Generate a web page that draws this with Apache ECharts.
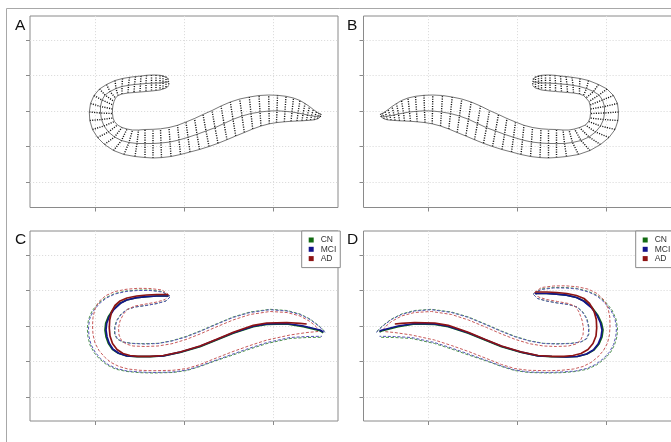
<!DOCTYPE html>
<html>
<head>
<meta charset="utf-8">
<script src="https://cdn.jsdelivr.net/npm/echarts@6/dist/echarts.min.js"></script>
<style>
html, body { margin: 0; padding: 0; background: #fff; }
#main { width: 671px; height: 442px; }
</style>
</head>
<body>
<div id="main"></div>
<script>
// tick positions (no labels in the figure)
var xTicks = [-88.5, 0, 89];
var yTicks = [-71.5, -35.5, 0, 35.5, 71];

// panel A: mesh stations, outer edge / medial line / inner edge
var aOuter = [[-16,32.5],[-18,34.5],[-21,35.2],[-24,35.7],[-28,36],[-32.5,36],[-37.5,35.7],[-43,35],[-48.5,34.5],[-54.5,33.7],[-61.5,32.5],[-69,30.5],[-77.5,26.5],[-84.5,22],[-90,15.5],[-93.5,7.5],[-94.7,-1],[-94.2,-9.5],[-91.5,-18.5],[-86.5,-26.5],[-79.5,-33.5],[-70.5,-39.5],[-60,-43.5],[-49,-45.5],[-39,-46.5],[-31,-47],[-22.5,-46.6],[-13,-45.5],[-3.5,-43.5],[6,-41],[15.5,-38.5],[25,-35.5],[34,-32.3],[43,-28.7],[51.7,-25],[60.3,-21.5],[68.7,-18],[77,-15],[85.3,-12.8],[92.5,-11.6],[100.3,-10.8],[107,-10.3],[113,-10],[118,-9.8],[122.5,-9.5],[126.5,-9.2],[130.3,-8.8],[133.5,-7.8],[136.3,-6]];
var aMid = [[-15.5,29],[-18,29],[-21,28.5],[-24,28],[-28,28],[-32.5,27.8],[-38,27.5],[-43.5,27],[-49.5,26.5],[-55.5,25.7],[-62,24.5],[-68,22.5],[-74,19.5],[-79,16],[-82,11],[-83.5,4.5],[-83.5,-2],[-82.5,-8.5],[-80,-15],[-75.5,-21],[-69.5,-26],[-62.5,-29.5],[-55,-31.5],[-47,-32.5],[-39,-32.5],[-31,-32.5],[-23,-32],[-14,-31],[-5,-29],[4,-26.3],[13,-23.3],[22,-20],[31,-16.7],[40,-12.5],[49,-8.3],[58,-5],[67,-2.5],[76,-1],[85,0],[93,0.2],[101,-0.3],[108,-1],[114,-2],[119,-3],[123.5,-4],[127.5,-4.8],[131,-5.3],[134,-5.3],[136.5,-4.5]];
var aInner = [[-15,25.5],[-18,23],[-21,22],[-24,21],[-28,20.5],[-32.5,20],[-38,19.5],[-44,19],[-50,18.5],[-56,18],[-62,17],[-66,15.5],[-68.5,13],[-70,9.5],[-71,6],[-71.5,2],[-71.5,-2.5],[-71,-7],[-69.5,-10.5],[-66.5,-14],[-62,-16.5],[-57,-18],[-51.5,-19],[-45.5,-19],[-39,-18.5],[-31,-18.3],[-23.5,-17.8],[-15,-16.5],[-6.5,-14.3],[2,-11],[10.5,-7.5],[19,-3.5],[28,0.5],[37,5],[46.3,9],[55.7,12],[65.3,14],[75,15.5],[84.7,16],[93.5,15.7],[102,14.7],[109.5,13],[116,10.5],[121,7.5],[125.5,4.5],[129.3,1.5],[132.5,-0.8],[135,-2.3],[137,-3]];

// panel B (other hemisphere, drawn on a reversed x axis)
var bOuter = [[-16,32.5],[-18,34.5],[-21,35.2],[-24,35.7],[-28,36],[-32.5,36],[-37.5,35.7],[-43,35],[-48.5,34.5],[-54.5,33.7],[-62.5,32.5],[-71,30.5],[-81,26.5],[-89.5,22],[-96,15.5],[-100,7.5],[-101,-1],[-100.5,-9.5],[-97.5,-18.5],[-91.5,-26.5],[-83,-33.5],[-72.5,-39.5],[-61,-43.5],[-49,-45.5],[-39,-46.5],[-31,-47],[-22.5,-46.6],[-13,-45.5],[-3.5,-43.5],[6,-41],[15.5,-38.5],[25,-35.5],[34,-32.3],[43,-28.7],[51.7,-25],[60.3,-21.5],[68.7,-18],[77,-15],[85.3,-12.8],[92.5,-11.6],[100.3,-10.8],[107,-10.3],[113,-10],[118,-9.8],[122.5,-9.5],[126.5,-9.2],[130.3,-8.8],[133.5,-7.8],[136.3,-6]];
var bMid = [[-15.5,29],[-18,29],[-21,28.5],[-24,28],[-28,28],[-32.5,27.8],[-38,27.5],[-43.5,27],[-49.5,26.5],[-55.5,25.7],[-62,24.5],[-69,22.5],[-76,19.5],[-81.5,16],[-85,11],[-87,4.5],[-87,-2],[-86,-8.5],[-83,-15],[-78,-21],[-71.5,-26],[-63.5,-29.5],[-55,-31.5],[-47,-32.5],[-39,-32.5],[-31,-32.5],[-23,-32],[-14,-31],[-5,-29],[4,-26.3],[13,-23.3],[22,-20],[31,-16.7],[40,-12.5],[49,-8.3],[58,-5],[67,-2.5],[76,-1],[85,0],[93,0.2],[101,-0.3],[108,-1],[114,-2],[119,-3],[123.5,-4],[127.5,-4.8],[131,-5.3],[134,-5.3],[136.5,-4.5]];
var bInner = [[-15,25.5],[-18,23],[-21,22],[-24,21],[-28,20.5],[-32.5,20],[-38,19.5],[-44,19],[-50,18.5],[-56,18],[-62,17],[-66,15.5],[-68.5,13],[-71.5,9.5],[-72.5,6],[-73,2],[-73,-2.5],[-72.5,-7],[-71,-10.5],[-68,-14],[-62,-16.5],[-57,-18],[-51.5,-19],[-45.5,-19],[-39,-18.5],[-31,-18.3],[-23.5,-17.8],[-15,-16.5],[-6.5,-14.3],[2,-11],[10.5,-7.5],[19,-3.5],[28,0.5],[37,5],[46.3,9],[55.7,12],[65.3,14],[75,15.5],[84.7,16],[93.5,15.7],[102,14.7],[109.5,13],[116,10.5],[121,7.5],[125.5,4.5],[129.3,1.5],[132.5,-0.8],[135,-2.3],[137,-3]];

// panel C: group mean medial curves and their limits
var groups = ['CN', 'MCI', 'AD'];
var cnMean = [[-15.5,30],[-27.3,30],[-37.3,29.3],[-47.3,28.3],[-57.3,26],[-64,22.7],[-70.7,16.7],[-75.7,9.3],[-78.3,2.7],[-79,-4],[-78,-10.7],[-75.7,-17.3],[-71.7,-23.3],[-65.7,-27.3],[-57.3,-30],[-47.3,-30.7],[-34,-30.7],[-20.7,-30],[-4,-26.5],[16,-20.7],[32.7,-14],[49.3,-7.3],[69.3,-0.7],[82.7,1.7],[102.7,2],[119.3,-0.7],[136,-4.7],[139.3,-6.7]];
var mciMean = [[-15.5,30],[-27.3,30],[-37.3,29.3],[-47.3,28.3],[-57.3,26],[-63.5,22.7],[-70,16.7],[-74.8,9.3],[-77.3,2.7],[-78,-4],[-77,-10.7],[-74.8,-17.3],[-71,-23.3],[-65.2,-27.3],[-57,-30],[-47.3,-30.5],[-34,-30.5],[-20.7,-29.8],[-4,-26.2],[16,-20.3],[32.7,-13.5],[49.3,-6.8],[69.3,-0.2],[82.7,2.2],[102.7,2.5],[119.3,0],[136,-4],[139.3,-6]];
var adMean = [[-16,31.5],[-27.3,31.5],[-37.3,31],[-47.3,30],[-57,28],[-64,25],[-69,20.5],[-72.5,14],[-74.3,6],[-74.7,-2],[-74,-10],[-71.5,-17.5],[-67,-23.5],[-61,-27.5],[-54,-29.5],[-46,-30.3],[-34,-30.3],[-20.7,-29.5],[-4,-26],[16,-20],[32.7,-13.2],[49.3,-6.3],[69.3,0.7],[82.7,3],[102.7,3.5],[116,2.7],[122.7,2]];
var cnOuter = [[-14,30],[-22,34.5],[-34,36],[-46,36],[-58,35],[-69,32.5],[-78,28.5],[-86,22.5],[-92,15],[-95.5,6.5],[-96.7,-2],[-96.2,-10.5],[-94,-19],[-90,-26.5],[-84.5,-33],[-77,-39],[-68,-43.3],[-57,-45.5],[-44,-46.7],[-31,-47],[-11,-46.5],[3,-44.5],[16,-40.5],[31,-35],[49,-29],[66,-23],[83,-17.5],[106,-12.5],[123,-11.5],[138,-11.3]];
var mciOuter = [[-14,30],[-22,34],[-34,35.5],[-46,35.5],[-58,34.5],[-69,32],[-77.5,28],[-85,22],[-91,14.5],[-94.5,6.5],[-95.5,-2],[-95,-10.5],[-93,-18.5],[-89,-26],[-83.5,-32.5],[-76,-38.5],[-67.5,-42.5],[-57,-45],[-44,-46],[-31,-46.5],[-11,-46],[3,-44],[16,-40],[31,-34.5],[49,-28],[66,-22],[83,-16.5],[106,-11.5],[123,-10.5],[138,-10.3]];
var adOuter = [[-15,31],[-22,36],[-34,37.5],[-46,37.7],[-58,36.7],[-69,34.5],[-78,30.5],[-85,24.5],[-89,17],[-91,8.5],[-91.5,0],[-91,-8.5],[-89,-17],[-85,-24.5],[-79.5,-31],[-73,-36.5],[-65,-40.5],[-56,-43],[-44,-44.3],[-31,-44.7],[-11,-44.3],[3,-42.5],[16,-38.5],[31,-32.5],[49,-25.5],[66,-19.5],[83,-14],[106,-9],[123,-6.5],[134,-5.5]];
var cnInner = [[-14,29],[-18,25],[-27,22.5],[-38,20.5],[-49,19],[-57,16.5],[-63,12],[-67.5,5.5],[-69.5,-1.5],[-69.5,-8],[-67,-13],[-61.5,-16],[-52,-17.3],[-39,-17.7],[-26,-17.3],[-12,-14.7],[2,-10.5],[16,-5],[31,1.5],[49,9],[66,14],[86,16.7],[103,15.5],[116,12],[126,7],[134,1],[139,-3.5],[141,-6]];
var mciInner = [[-14,29],[-18,25],[-27,22.5],[-38,20.5],[-49,19],[-57,16.5],[-62.5,12],[-67,5.5],[-69,-1.5],[-69,-8],[-66.5,-13],[-61,-16],[-52,-17.5],[-39,-18],[-26,-17.5],[-12,-15],[2,-11],[16,-5.5],[31,1],[49,8.5],[66,13.5],[86,16.3],[103,15],[116,11.5],[126,6.5],[134,0.5],[139,-4],[141,-6.5]];
var adInner = [[-15,31],[-19,26.5],[-27,24],[-38,22],[-49,20],[-56,17],[-60.5,12],[-64,5],[-65.5,-2],[-65,-9],[-62.5,-14.5],[-58,-18],[-51,-20],[-39,-20.5],[-26,-20],[-12,-17.7],[2,-13.5],[16,-8],[31,-1.5],[49,6],[66,11.5],[86,14.5],[103,13.5],[116,10],[126,4.5],[132,-0.5],[134.5,-4]];

// panel D (other hemisphere, reversed x axis)
var dCnMean = [[-17.5,32.5],[-29,32.5],[-39,31.8],[-49,30.8],[-59,28.5],[-66.5,25],[-74.5,18.5],[-80.5,10.5],[-84,3],[-85.5,-4],[-84.5,-11],[-81.5,-18],[-76.5,-24],[-69.5,-28],[-60,-30.5],[-49,-31],[-34.5,-30.7],[-20.7,-30],[-4,-26.5],[16,-20.7],[32.7,-14],[49.3,-7.3],[69.3,-0.7],[82.7,1.7],[102.7,2],[119.3,-0.7],[136,-5],[138,-6]];
var dMciMean = [[-17.5,32.5],[-29,32.5],[-39,31.8],[-49,30.8],[-59,28.5],[-66,25],[-73.8,18.5],[-79.6,10.5],[-83,3],[-84.5,-4],[-83.5,-11],[-80.6,-18],[-75.8,-24],[-69,-28],[-59.7,-30.5],[-49,-30.8],[-34.5,-30.5],[-20.7,-29.8],[-4,-26.2],[16,-20.3],[32.7,-13.5],[49.3,-6.8],[69.3,-0.2],[82.7,2.2],[102.7,2.5],[119.3,0],[136,-4.3],[138,-5.3]];
var dAdMean = [[-18,34],[-29.3,34],[-39.3,33.5],[-49.3,32.5],[-59,30.5],[-66.5,27.5],[-72,22.5],[-76.5,15],[-78.8,6.5],[-79.2,-2],[-78.5,-10],[-75.5,-17.5],[-70.5,-23.5],[-63.5,-27.5],[-55.5,-29.5],[-46.5,-30.3],[-34,-30.3],[-20.7,-29.5],[-4,-26],[16,-20],[32.7,-13.2],[49.3,-6.3],[69.3,0.7],[82.7,3],[102.7,3.5],[116,2.7],[122.7,2]];
var dCnOuter = [[-16,32.5],[-24,37],[-36,38.5],[-48,38.5],[-60,37.5],[-71,34.5],[-80,30.5],[-88,24],[-94.5,16],[-98.5,7],[-100,-2],[-99.5,-10.5],[-97,-19],[-93,-26.5],[-87,-33],[-79,-39],[-69.5,-43.3],[-58,-45.5],[-44.5,-46.7],[-31,-47],[-11,-46.5],[3,-44.5],[16,-40.5],[31,-35],[49,-29],[66,-23],[83,-17.5],[106,-12.5],[123,-11.5],[138,-11.3]];
var dMciOuter = [[-16,32.5],[-24,36.5],[-36,38],[-48,38],[-60,37],[-71,34],[-79.5,30],[-87,23.5],[-93.5,15.5],[-97.5,7],[-99,-2],[-98.3,-10.5],[-96,-18.5],[-92,-26],[-86,-32.5],[-78,-38.5],[-69,-42.5],[-58,-45],[-44.5,-46],[-31,-46.5],[-11,-46],[3,-44],[16,-40],[31,-34.5],[49,-28],[66,-22],[83,-16.5],[106,-11.5],[123,-10.5],[138,-10.3]];
var dAdOuter = [[-17,33.5],[-24,38.5],[-36,40],[-48,40.2],[-60,39.2],[-71,36.8],[-79.5,32.5],[-86.5,26],[-90.5,18],[-92.3,9],[-92.5,0],[-92,-8.5],[-90,-17],[-86,-24.5],[-80.3,-31],[-73.5,-36.5],[-65.5,-40.5],[-56,-43],[-44,-44.3],[-31,-44.7],[-11,-44.3],[3,-42.5],[16,-38.5],[31,-32.5],[49,-25.5],[66,-19.5],[83,-14],[106,-9],[123,-6.5],[134,-5.5]];
var dCnInner = [[-16,31.5],[-20,27.5],[-29,25],[-40,23],[-51,21.5],[-59.5,19],[-65,14.5],[-69.5,7.5],[-71.5,-1],[-71.5,-8],[-69,-13],[-63.5,-16],[-53.5,-17.3],[-39.5,-17.7],[-26,-17.3],[-12,-14.7],[2,-10.5],[16,-5],[31,1.5],[49,9],[66,14],[86,16.7],[103,15.5],[116,12],[126,7],[134,1],[139,-3.5],[141,-6]];
var dMciInner = [[-16,31.5],[-20,27.5],[-29,25],[-40,23],[-51,21.5],[-59.5,19],[-64.5,14.5],[-69,7.5],[-71,-1],[-71,-8],[-68.5,-13],[-63,-16],[-53.5,-17.5],[-39.5,-18],[-26,-17.5],[-12,-15],[2,-11],[16,-5.5],[31,1],[49,8.5],[66,13.5],[86,16.3],[103,15],[116,11.5],[126,6.5],[134,0.5],[139,-4],[141,-6.5]];
var dAdInner = [[-17,33.5],[-21,29],[-29,26.5],[-40,24.5],[-51,22.5],[-58,19.5],[-61.5,14],[-64.5,6],[-66,-2],[-65.5,-9],[-63,-14.5],[-58.5,-18],[-51,-20],[-39,-20.5],[-26,-20],[-12,-17.7],[2,-13.5],[16,-8],[31,-1.5],[49,6],[66,11.5],[86,14.5],[103,13.5],[116,10],[126,4.5],[132,-0.5],[134.5,-4]];

var meanColors = ['#136b13', '#14148c', '#8e1414'];
var limitColors = ['#4f944f', '#5757b8', '#c85a5a'];
var boxColor = '#8a8a8a';
var font = '"Liberation Sans", Arial, sans-serif';

var chartDom = document.getElementById('main');
var myChart = echarts.init(chartDom);

function grid(left, top, height) {
  return { left: left, top: top, width: 308, height: height, show: true,
    borderColor: boxColor, borderWidth: 1, backgroundColor: 'transparent',
    containLabel: false, outerBoundsMode: 'none' };
}
function xAxis(idx, inverse) {
  return { type: 'value', gridIndex: idx, min: -154, max: 154, inverse: inverse, position: 'bottom',
    axisLine: { show: false, onZero: false },
    axisTick: { show: true, length: 4, customValues: xTicks, lineStyle: { color: boxColor } },
    axisLabel: { show: false, customValues: xTicks },
    splitLine: { show: true, lineStyle: { color: '#dddddd', type: [1.2, 1.8] } } };
}
function yAxis(idx, min) {
  return { type: 'value', gridIndex: idx, min: min, max: 95, position: 'left',
    axisLine: { show: false, onZero: false },
    axisTick: { show: true, length: 4, customValues: yTicks, lineStyle: { color: boxColor } },
    axisLabel: { show: false, customValues: yTicks },
    splitLine: { show: true, lineStyle: { color: '#dddddd', type: [1.2, 1.8] } } };
}
function curve(data, idx, color, width, type, name) {
  return { type: 'line', name: name, xAxisIndex: idx, yAxisIndex: idx, data: data,
    symbol: 'none', showSymbol: false, silent: true,
    lineStyle: { color: color, width: width, type: type }, itemStyle: { color: color } };
}
function spokes(outer, mid, inner, idx) {
  return { type: 'lines', coordinateSystem: 'cartesian2d', xAxisIndex: idx, yAxisIndex: idx,
    polyline: true, silent: true, z: 3,
    lineStyle: { color: '#111', width: 1.4, type: [1.1, 1.3], opacity: 1 },
    data: outer.map(function (p, i) { return { coords: [p, mid[i], inner[i]] }; }) };
}
function mesh(outer, mid, inner, idx) {
  return [
    curve(outer, idx, '#555', 0.8, 'solid', 'edge'),
    curve(mid, idx, '#555', 0.8, 'solid', 'medial'),
    curve(inner, idx, '#555', 0.8, 'solid', 'edge2'),
    spokes(outer, mid, inner, idx)
  ];
}
function groupCurves(idx, means, outers, inners) {
  var out = [];
  groups.forEach(function (g, k) {
    out.push(curve(outers[k], idx, limitColors[k], 1, [3, 1.8], g + ' limit'));
    out.push(curve(inners[k], idx, limitColors[k], 1, [3, 1.8], g + ' limit2'));
  });
  groups.forEach(function (g, k) {
    out.push(curve(means[k], idx, meanColors[k], 1.7, 'solid', g));
  });
  return out;
}
function legend(left) {
  return { data: groups, left: left, top: 231, orient: 'vertical', icon: 'rect',
    itemWidth: 5, itemHeight: 5, itemGap: 0.3, padding: [4.5, 4, 4.5, 7],
    borderColor: boxColor, borderWidth: 1, backgroundColor: '#fff', selectedMode: false,
    textStyle: { fontSize: 8.5, lineHeight: 9, color: '#333', fontFamily: font, padding: [0, 0, 0, 2] } };
}
function letter(text, x, y) {
  return { type: 'text', x: x, y: y, silent: true,
    style: { text: text, fill: '#111', font: '15.5px ' + font, verticalAlign: 'top' } };
}

var option = {
  animation: false,
  backgroundColor: '#fff',
  grid: [grid(30, 16, 191.5), grid(363.5, 16, 191.5), grid(30, 231, 190), grid(363.5, 231, 190)],
  xAxis: [xAxis(0, false), xAxis(1, true), xAxis(2, false), xAxis(3, true)],
  yAxis: [yAxis(0, -96.5), yAxis(1, -96.5), yAxis(2, -95), yAxis(3, -95)],
  legend: [legend(301.7), legend(635.7)],
  graphic: [
    { type: 'rect', silent: true, shape: { x: 6.5, y: 8.5, width: 700, height: 460 },
      style: { fill: 'none', stroke: '#a8a8a8', lineWidth: 1 } },
    letter('A', 15, 17.5), letter('B', 347, 17.5), letter('C', 15, 231.5), letter('D', 347, 231.5)
  ],
  series: [].concat(
    mesh(aOuter, aMid, aInner, 0),
    mesh(bOuter, bMid, bInner, 1),
    groupCurves(2, [cnMean, mciMean, adMean], [cnOuter, mciOuter, adOuter], [cnInner, mciInner, adInner]),
    groupCurves(3, [dCnMean, dMciMean, dAdMean], [dCnOuter, dMciOuter, dAdOuter], [dCnInner, dMciInner, dAdInner])
  )
};

myChart.setOption(option);
</script>
</body>
</html>
